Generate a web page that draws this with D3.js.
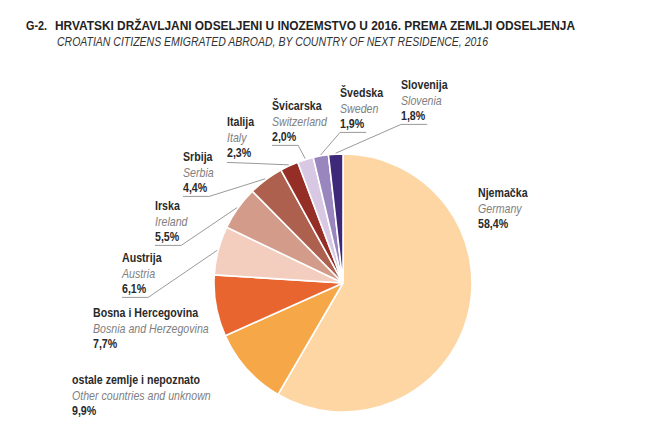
<!DOCTYPE html>
<html><head><meta charset="utf-8">
<script src="https://cdn.jsdelivr.net/npm/d3@7"></script>
<style>body{margin:0;background:#fff} svg{display:block}</style>
</head><body><svg id="c" width="660" height="444"></svg>
<script>
const categories = ["Njemačka","ostale zemlje i nepoznato","Bosna i Hercegovina","Austrija","Irska","Srbija","Italija","Švicarska","Švedska","Slovenija"];
const categoriesEn = ["Germany","Other countries and unknown","Bosnia and Herzegovina","Austria","Ireland","Serbia","Italy","Switzerland","Sweden","Slovenia"];
const values = [58.4,9.9,7.7,6.1,5.5,4.4,2.3,2.0,1.9,1.8];
const sliceColors = ["#FDD6A4","#F6A748","#E9652F","#F3CEBF","#D39C8A","#AD604E","#942E26","#D8C8E4","#9A86BE","#3D2879"];
const titleNum = "G-2.";
const titleHr = "HRVATSKI DRŽAVLJANI ODSELJENI U INOZEMSTVO U 2016. PREMA ZEMLJI ODSELJENJA";
const titleEn = "CROATIAN CITIZENS EMIGRATED ABROAD, BY COUNTRY OF NEXT RESIDENCE, 2016";

// layout (positions only)
const cx = 343, cy = 283, R = 129;
const labelLayout = [
  {x:478, y:197, leader:"none"},
  {x:72,  y:384, leader:"none"},
  {x:93,  y:317, leader:"none"},
  {x:122, y:262, leader:"end"},
  {x:155, y:210, leader:"end"},
  {x:183, y:161, leader:"end"},
  {x:227, y:126, leader:"direct"},
  {x:272, y:110, leader:"end"},
  {x:340, y:97,  leader:"start"},
  {x:401, y:89,  leader:"start"}
];
const lineGap = 15.7;
const sx = 0.85;
const fontFam = "'Liberation Sans',Arial,sans-serif";

const svg = d3.select("#c");
function sText(x, y, txt, opts) {
  const g = svg.append("g").attr("transform", `translate(${x},${y}) scale(${opts.sx||1},1)`);
  const t = g.append("text").attr("x",0).attr("y",0).attr("font-family",fontFam)
    .attr("font-size",opts.size||12.5).attr("fill",opts.fill||"#2a2a2a")
    .attr("font-weight",opts.bold?"bold":"normal").attr("font-style",opts.italic?"italic":"normal").text(txt);
  if (opts.len) t.attr("textLength",opts.len).attr("lengthAdjust","spacingAndGlyphs");
  return t;
}
sText(26, 30, titleNum, {bold:true, size:12.5, fill:"#222", len:21});
sText(55, 30, titleHr, {bold:true, size:12.5, fill:"#222", len:520});
sText(57, 46, titleEn, {italic:true, size:12.5, fill:"#333", len:431});

const pie = d3.pie().sort(null).value(d=>d).startAngle(0).endAngle(2*Math.PI);
const arcs = pie(values);
const arc = d3.arc().innerRadius(0).outerRadius(R);
const edgeArc = d3.arc().innerRadius(R+1).outerRadius(R+1);

const g = svg.append("g").attr("transform",`translate(${cx},${cy})`);
g.selectAll("path").data(arcs).join("path")
  .attr("d",arc).attr("fill",(d,i)=>sliceColors[i])
  .attr("stroke","#fff").attr("stroke-width",1.6).attr("stroke-linejoin","round");

arcs.forEach((a,i)=>{
  const L = labelLayout[i];
  sText(L.x, L.y, categories[i], {bold:true, sx});
  sText(L.x, L.y+lineGap, categoriesEn[i], {italic:true, sx, fill:"#808080"});
  const p = sText(L.x, L.y+2*lineGap, values[i].toFixed(1).replace(".",",")+"%", {bold:true, sx});
  if (L.leader==="none") return;
  const w = p.node().getComputedTextLength()*sx+2;
  const yU = L.y+2*lineGap+4;
  const c = edgeArc.centroid(a);
  const tip = [cx+c[0], cy+c[1]];
  let pts;
  if (L.leader==="direct") pts = [[L.x, yU+1],[L.x+w, yU+2], tip];
  else if (L.leader==="end") pts = [[L.x,yU],[L.x+w,yU],tip];
  else pts = [[L.x+w,yU],[L.x,yU],tip];
  svg.append("path").attr("d",d3.line()(pts)).attr("fill","none").attr("stroke","#9a9a9a").attr("stroke-width",1);
});
</script></body></html>
